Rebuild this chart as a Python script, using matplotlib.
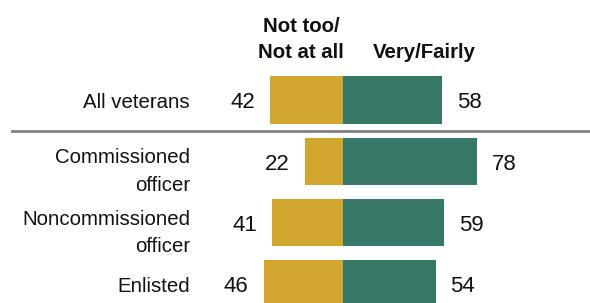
import matplotlib
matplotlib.use('Agg')
import matplotlib.pyplot as plt

categories = ['All veterans', 'Commissioned\nofficer', 'Noncommissioned\nofficer', 'Enlisted']
not_too = [42, 22, 41, 46]
very = [58, 78, 59, 54]
headers = ['Not too/\nNot at all', 'Very/Fairly']

gold = '#D1A730'
green = '#367867'
ink = '#111111'

plt.rcParams['font.family'] = ['Liberation Sans', 'DejaVu Sans']

fig = plt.figure(figsize=(5.9, 3.03), dpi=100)
ax = fig.add_axes([0, 0, 1, 1])

# bars diverge from x=342.7px, 1.72 px per percent point; rows 61.3 px apart
ax.set_xlim(-199.2, 143.8)
ax.set_ylim(3.311, -1.631)
ax.axis('off')

y = list(range(len(categories)))
ax.barh(y, [-v for v in not_too], height=0.767, color=gold, linewidth=0)
ax.barh(y, very, height=0.767, color=green, linewidth=0)

fs = 14.7
for i, cat in enumerate(categories):
    nlines = cat.count('\n') + 1
    ax.text(-88.8, i + 0.135 + 0.35 * (nlines - 1), cat, ha='right',
            va='baseline', fontsize=fs, color=ink, linespacing=1.58)
    ax.text(-not_too[i] - 8.7, i + 0.135, str(not_too[i]), ha='right',
            va='baseline', fontsize=16, color=ink)
    ax.text(very[i] + 8.7, i + 0.135, str(very[i]), ha='left',
            va='baseline', fontsize=16, color=ink)

ax.text(-24.2, -0.685, headers[0], ha='center', va='baseline', fontsize=fs,
        fontweight='bold', color=ink, linespacing=1.5)
ax.text(47.3, -0.685, headers[1], ha='center', va='baseline', fontsize=fs,
        fontweight='bold', color=ink)

ax.axhline(0.5, xmin=0.02, xmax=1.0, color='#828282', linewidth=2)

fig.savefig('out.png', dpi=100)
